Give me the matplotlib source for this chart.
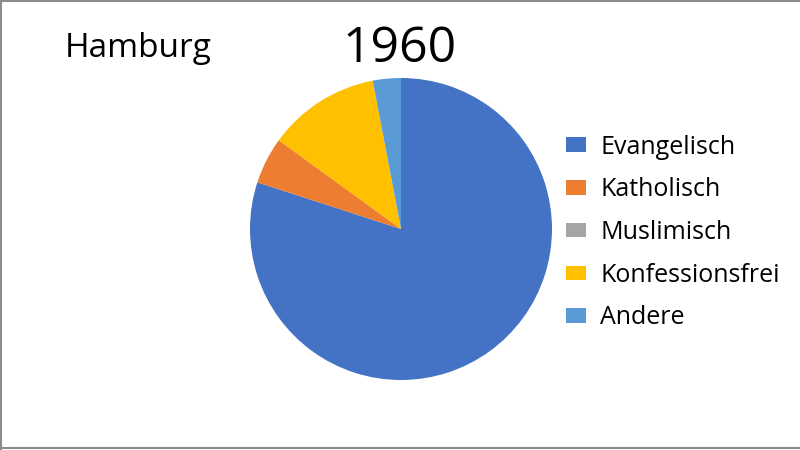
import matplotlib
matplotlib.use('Agg')
import matplotlib.pyplot as plt
from matplotlib.lines import Line2D

# Hamburg 1960, Anteile in %
labels = ['Evangelisch', 'Katholisch', 'Muslimisch', 'Konfessionsfrei', 'Andere']
values = [80, 5, 0, 12, 3]
colors = ['#4472C4', '#ED7D31', '#A5A5A5', '#FFC000', '#5B9BD5']

plt.rcParams['font.family'] = ['Open Sans', 'DejaVu Sans']

fig = plt.figure(figsize=(8, 4.5), dpi=100)
ax = fig.add_axes([250/800, 70/450, 302/800, 302/450])
wedges, _ = ax.pie(values, colors=colors, startangle=90, counterclock=False,
                   radius=1, wedgeprops=dict(linewidth=0))
ax.set_xlim(-1, 1)
ax.set_ylim(-1, 1)
ax.set_aspect('equal')

fig.text(65/800, 1 - 57/450, 'Hamburg', fontsize=24, ha='left', va='baseline')
fig.text(400/800, 1 - 62/450, '1960', fontsize=36, ha='center', va='baseline')

fig.legend(wedges, labels, loc='upper left', bbox_to_anchor=(553/800, 1 - 122/450),
           frameon=False, fontsize=18, handlelength=0.8, handleheight=0.52,
           handletextpad=0.6, labelspacing=0.71, borderpad=0)

# grauer Rahmen (links, oben, unten)
for xs, ys in [([0.0015, 0.0015], [0, 1]), ([0, 1], [0.998, 0.998]), ([0, 1], [0.004, 0.004])]:
    fig.add_artist(Line2D(xs, ys, color='#8c8c8c', linewidth=1.5, transform=fig.transFigure))

fig.savefig('out.png', dpi=100)
